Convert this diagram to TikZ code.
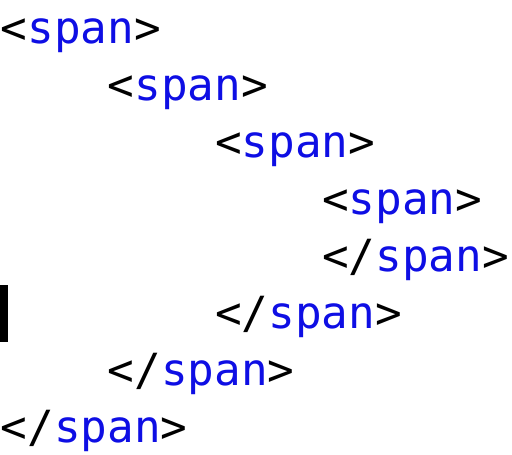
\documentclass[tikz,border=0pt]{standalone}
\usepackage{fontspec}
\setmonofont{DejaVu Sans Mono}
\definecolor{tagblue}{RGB}{14,14,228}
\newcommand{\opentag}{<\textcolor{tagblue}{span}>}
\newcommand{\closetag}{</\textcolor{tagblue}{span}>}
\tikzset{
  codeline/.style={anchor=base west, inner sep=0pt, font=\ttfamily\fontsize{44.3}{57}\selectfont}
}
\begin{document}
\begin{tikzpicture}[x=1pt, y=1pt]
    \useasboundingbox (0,-455) rectangle (512,0);

    % Tag lines: number / indent level / tag
    \foreach \i/\ind/\tag in {1/0/\opentag, 2/4/\opentag, 3/8/\opentag, 4/12/\opentag,
                              5/12/\closetag, 6/8/\closetag, 7/4/\closetag, 8/0/\closetag} {
        \node[codeline] (l\i) at ({\ind*26.8+0.5}, {-43-57*(\i-1)}) {\tag};
      }

    % Text cursor
    \fill[black] (0,-285) rectangle (8,-342);
  \end{tikzpicture}
\end{document}
